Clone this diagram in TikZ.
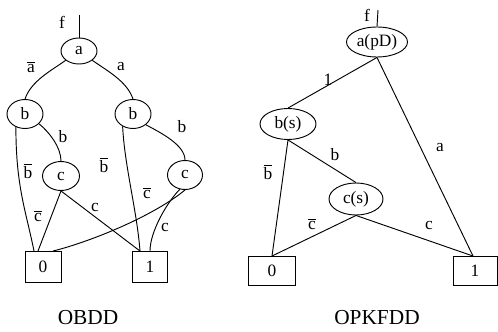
\documentclass[tikz,border=0pt]{standalone}
\usepackage{fontspec}
\setmainfont{Liberation Serif}
\usetikzlibrary{shapes.geometric}
\newdimen\px \px=0.75pt
\newcommand\ovl[1]{$\overline{\mbox{#1}}$}
\begin{document}
\begin{tikzpicture}[x=0.75pt,y=-0.75pt,line width=0.7pt,
 vnode/.style={ellipse,draw,inner sep=0pt,font=\fontsize{13}{15}\selectfont},
 term/.style={rectangle,draw,inner sep=0pt,font=\fontsize{13}{15}\selectfont},
 lbl/.style={inner sep=0pt,font=\fontsize{13}{15}\selectfont},
 title/.style={inner sep=0pt,font=\fontsize{16}{18}\selectfont}]
\useasboundingbox (0,0) rectangle (498,331);
% ---------- OBDD ----------
\node[vnode,minimum width=36\px,minimum height=26\px] (a) at (79,51) {a};
\node[vnode,minimum width=36\px,minimum height=29\px] (bL) at (25,114) {b};
\node[vnode,minimum width=36\px,minimum height=29\px] (bR) at (133,114) {b};
\node[vnode,minimum width=37\px,minimum height=29\px] (cL) at (61,176) {c};
\node[vnode,minimum width=35\px,minimum height=29\px] (cR) at (185,175) {c};
\node[term,minimum width=36\px,minimum height=31\px] (z0) at (43,267) {0};
\node[term,minimum width=35\px,minimum height=31\px] (z1) at (150,267) {1};
\coordinate (fL) at (79,15);
\draw (fL) -- (a.north);
\node[lbl] (lf) at (62,22) {f};
\draw (a.215) .. controls +(-14,10) and +(6,-18) .. (bL.north);
\draw (a.325) .. controls +(14,10) and +(-6,-18) .. (bR.north);
\draw (bL.235) .. controls +(0,60) and +(-8,-40) .. ([xshift=-9\px]z0.north);
\draw (bL.-35) .. controls +(10,8) and +(0,-14) .. (cL.north);
\draw (cL.south) -- ([xshift=-5\px]z0.north);
\draw (cL.south) -- ([xshift=-10\px]z1.north);
\draw (bR.230) .. controls +(2,40) and +(-3,-40) .. ([xshift=-10\px]z1.north);
\draw (bR.-40) .. controls +(15,8) and +(0,-15) .. (cR.north);
\draw (cR.south) .. controls +(-30,25) and +(40,-10) .. ([xshift=10\px]z0.north);
\draw (cR.250) .. controls +(-12,12) and +(0,-20) .. (z1.north);
\node[lbl] (l1) at (31,67) {\ovl{a}};
\node[lbl] (l2) at (121,67) {a};
\node[lbl] (l3) at (63,137) {b};
\node[lbl] (l4) at (182,127) {b};
\node[lbl] (l5) at (28,171) {\ovl{b}};
\node[lbl] (l6) at (104,165) {\ovl{b}};
\node[lbl] (l7) at (38,216) {\ovl{c}};
\node[lbl] (l8) at (95,207) {c};
\node[lbl] (l9) at (147,193) {\ovl{c}};
\node[lbl] (l10) at (165,227) {c};
\node[title] (t1) at (88,318) {OBDD};
% ---------- OPKFDD ----------
\node[vnode,minimum width=61\px,minimum height=30\px] (A) at (377,42) {a(pD)};
\node[vnode,minimum width=56\px,minimum height=31\px] (B) at (288,124) {b(s)};
\node[vnode,minimum width=54\px,minimum height=32\px] (C) at (356,199) {c(s)};
\node[term,minimum width=47\px,minimum height=29\px] (O0) at (272,271) {0};
\node[term,minimum width=44\px,minimum height=29\px] (O1) at (475,271) {1};
\coordinate (fR) at (378,10);
\draw (fR) -- (A.north);
\node[lbl] (rf) at (367,15) {f};
\draw (A.south) -- (B.north);
\draw (A.south) -- ([xshift=-2\px]O1.north);
\draw (B.south) -- (O0.north);
\draw (B.south) -- (C.north);
\draw (C.south) -- (O0.north);
\draw (C.south) -- ([xshift=-2\px]O1.north);
\node[lbl] (r1) at (328,80) {1};
\node[lbl] (r2) at (440,148) {a};
\node[lbl] (r3) at (335,155) {b};
\node[lbl] (r4) at (268,172) {\ovl{b}};
\node[lbl] (r5) at (312,224) {\ovl{c}};
\node[lbl] (r6) at (429,225) {c};
\node[title] (t2) at (377,318) {OPKFDD};
\end{tikzpicture}
\end{document}
